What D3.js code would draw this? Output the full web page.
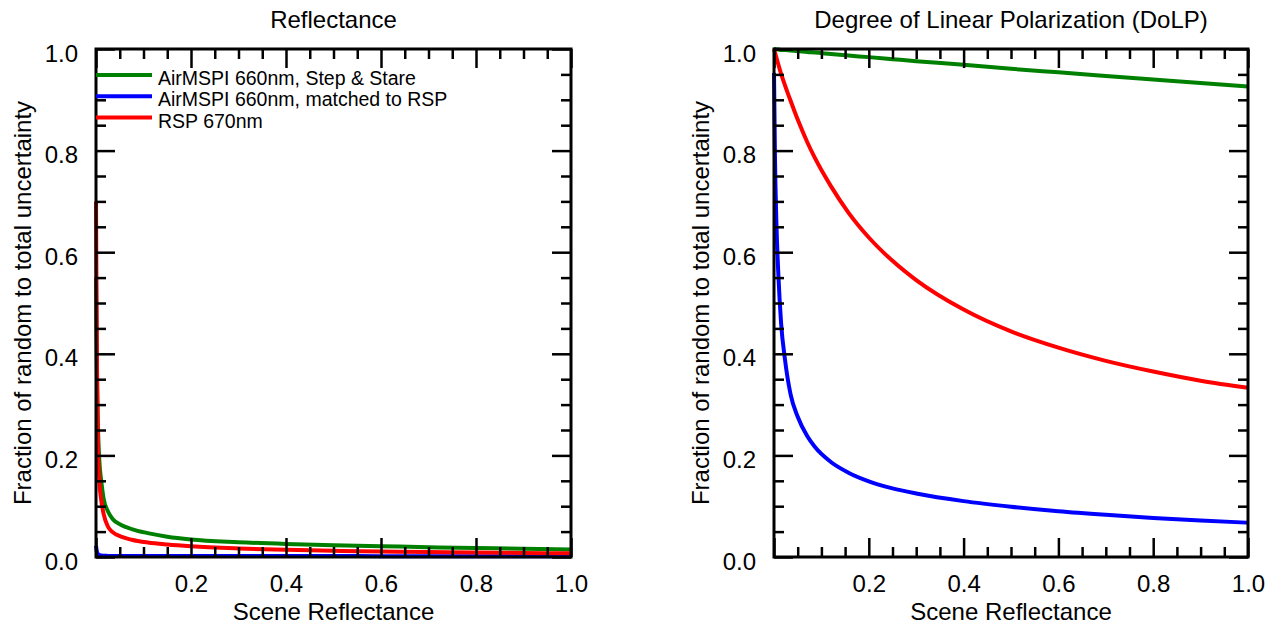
<!DOCTYPE html>
<html>
<head>
<meta charset="utf-8">
<script src="https://cdn.jsdelivr.net/npm/d3@7"></script>
<style>
  body { margin: 0; background: #fff; }
  text { font-family: "Liberation Sans", Arial, sans-serif; fill: #000; }
</style>
</head>
<body>
<div id="chart"></div>
<script>
// Left panel (Reflectance) data
const reflX = [0, 0.001, 0.002, 0.004, 0.007, 0.011, 0.016, 0.025, 0.035, 0.053, 0.075, 0.109, 0.15, 0.2, 0.3, 0.4, 0.5, 0.6, 0.7, 0.8, 0.9, 1.0];
const reflGreen = [0.55, 0.45, 0.36, 0.26, 0.19, 0.15, 0.115, 0.09, 0.075, 0.063, 0.055, 0.047, 0.040, 0.0345, 0.0292, 0.0257, 0.0232, 0.0212, 0.0193, 0.0177, 0.0162, 0.015];
const reflBlue = [0.022, 0.015, 0.01, 0.006, 0.004, 0.003, 0.0025, 0.0022, 0.002, 0.002, 0.002, 0.002, 0.002, 0.002, 0.002, 0.0018, 0.0018, 0.0017, 0.0016, 0.0016, 0.0015, 0.0015];
const reflRed = [0.70, 0.52, 0.38, 0.22, 0.15, 0.112, 0.085, 0.06, 0.049, 0.04, 0.034, 0.0285, 0.0245, 0.021, 0.0168, 0.0142, 0.0123, 0.0108, 0.0096, 0.0087, 0.0079, 0.0072];

// Right panel (DoLP) data
const dolpX = [0, 0.002, 0.005, 0.009, 0.015, 0.023, 0.035, 0.05, 0.07, 0.086, 0.12, 0.157, 0.2, 0.25, 0.3, 0.4, 0.5, 0.6, 0.7, 0.8, 0.9, 1.0];
const dolpGreen = [1.0, 1.0, 0.999, 0.999, 0.998, 0.998, 0.997, 0.996, 0.994, 0.993, 0.990, 0.987, 0.984, 0.980, 0.976, 0.969, 0.961, 0.954, 0.947, 0.940, 0.933, 0.926];
const dolpBlue = [0.953, 0.79, 0.66, 0.56, 0.46, 0.39, 0.32, 0.276, 0.238, 0.217, 0.187, 0.166, 0.149, 0.135, 0.125, 0.11, 0.099, 0.09, 0.083, 0.077, 0.072, 0.0675];
const dolpRed = [1.0, 0.993, 0.983, 0.97, 0.951, 0.929, 0.898, 0.861, 0.817, 0.786, 0.73, 0.678, 0.629, 0.583, 0.545, 0.487, 0.444, 0.412, 0.386, 0.365, 0.347, 0.333];

const seriesNames = ["AirMSPI 660nm, Step & Stare", "AirMSPI 660nm, matched to RSP", "RSP 670nm"];
const seriesColors = ["#008000", "#0000ff", "#ff0000"];
const majorTicks = [0, 0.2, 0.4, 0.6, 0.8, 1.0];
const xLabelTicks = [0.2, 0.4, 0.6, 0.8, 1.0];
const minorTicks = d3.range(0, 1.0001, 0.05).filter(v => Math.abs(v * 5 - Math.round(v * 5)) > 1e-6);

const width = 1271, height = 624;
const plotTop = 49, plotBottom = 557;

const svg = d3.select("#chart").append("svg")
    .attr("width", width)
    .attr("height", height);

const panels = [
    { left: 96, right: 571, title: "Reflectance", xs: reflX, ys: [reflGreen, reflBlue, reflRed], legend: true },
    { left: 774, right: 1248, title: "Degree of Linear Polarization (DoLP)", xs: dolpX, ys: [dolpGreen, dolpBlue, dolpRed], legend: false }
];

panels.forEach(p => {
    const x = d3.scaleLinear().domain([0, 1]).range([p.left, p.right]);
    const y = d3.scaleLinear().domain([0, 1]).range([plotBottom, plotTop]);
    const g = svg.append("g");

    // curves
    const line = d3.line()
        .x((d, i) => x(p.xs[i]))
        .y(d => y(d))
        .curve(d3.curveMonotoneX);
    p.ys.forEach((vals, k) => {
        g.append("path")
            .datum(vals)
            .attr("d", line)
            .attr("fill", "none")
            .attr("stroke", seriesColors[k])
            .attr("stroke-width", 4);
    });

    // axes: major + minor ticks on all four sides, pointing inward
    const addAxis = (axis, transform, cls) => {
        const a = g.append("g").attr("class", cls).attr("transform", transform).call(axis);
        a.select(".domain").remove();
        a.selectAll(".tick line").attr("stroke", "#000").attr("stroke-width", 2.5);
        a.selectAll("text").style("font-size", "24px").attr("fill", "#000");
        return a;
    };
    // bottom
    addAxis(d3.axisBottom(x).tickValues(minorTicks).tickSize(-10).tickFormat(""), `translate(0,${plotBottom})`, "xminor");
    addAxis(d3.axisBottom(x).tickValues(majorTicks).tickSize(-19).tickFormat(""), `translate(0,${plotBottom})`, "xmajor");
    addAxis(d3.axisBottom(x).tickValues(xLabelTicks).tickSize(0).tickPadding(18).tickFormat(d3.format(".1f")), `translate(0,${plotBottom})`, "xlabels");
    // top
    addAxis(d3.axisTop(x).tickValues(minorTicks).tickSize(-10).tickFormat(""), `translate(0,${plotTop})`, "xminor");
    addAxis(d3.axisTop(x).tickValues(majorTicks).tickSize(-19).tickFormat(""), `translate(0,${plotTop})`, "xmajor");
    // left
    addAxis(d3.axisLeft(y).tickValues(minorTicks).tickSize(-10).tickFormat(""), `translate(${p.left},0)`, "yminor");
    addAxis(d3.axisLeft(y).tickValues(majorTicks).tickSize(-19).tickFormat(""), `translate(${p.left},0)`, "ymajor");
    addAxis(d3.axisLeft(y).tickValues(majorTicks).tickSize(0).tickPadding(18).tickFormat(d3.format(".1f")), `translate(${p.left},0)`, "ylabels")
        .selectAll("text").attr("dy", "0.5em");
    // right
    addAxis(d3.axisRight(y).tickValues(minorTicks).tickSize(-10).tickFormat(""), `translate(${p.right},0)`, "yminor");
    addAxis(d3.axisRight(y).tickValues(majorTicks).tickSize(-19).tickFormat(""), `translate(${p.right},0)`, "ymajor");

    // frame
    g.append("rect")
        .attr("x", p.left).attr("y", plotTop)
        .attr("width", p.right - p.left).attr("height", plotBottom - plotTop)
        .attr("fill", "none").attr("stroke", "#000").attr("stroke-width", 3);

    // titles and axis labels
    g.append("text")
        .attr("x", (p.left + p.right) / 2).attr("y", 28)
        .attr("text-anchor", "middle").style("font-size", "24px")
        .text(p.title);
    g.append("text")
        .attr("x", (p.left + p.right) / 2).attr("y", 620)
        .attr("text-anchor", "middle").style("font-size", "24px")
        .text("Scene Reflectance");
    g.append("text")
        .attr("transform", `translate(${p.left - 65},${(plotTop + plotBottom) / 2}) rotate(-90)`)
        .attr("text-anchor", "middle").style("font-size", "24px")
        .text("Fraction of random to total uncertainty");

    // legend
    if (p.legend) {
        seriesNames.forEach((name, k) => {
            const ly = 75 + k * 21.3;
            g.append("line")
                .attr("x1", p.left).attr("x2", p.left + 56)
                .attr("y1", ly).attr("y2", ly)
                .attr("stroke", seriesColors[k]).attr("stroke-width", 4);
            g.append("text")
                .attr("x", p.left + 62).attr("y", ly + 10)
                .style("font-size", "19.5px")
                .text(name);
        });
    }
});
</script>
</body>
</html>
